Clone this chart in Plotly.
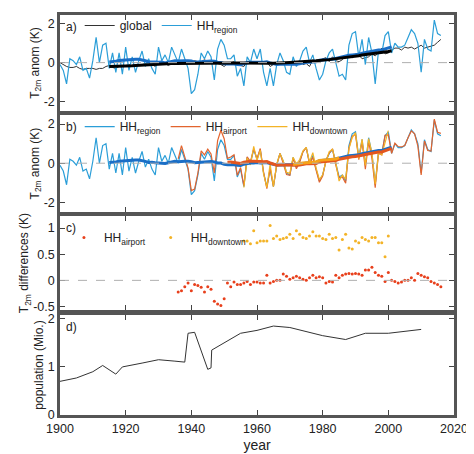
import numpy as np
import plotly.graph_objects as go
from plotly.subplots import make_subplots

years = list(range(1900, 2017))
hh_region = [-0.1,-0.4,-1.1,0.2,0.1,-0.1,0.3,-0.4,-0.3,-0.8,
             0.1,1.3,0.0,0.9,1.0,-0.3,0.5,-0.5,0.5,-0.6,
             0.8,-0.4,0.3,-0.5,0.1,0.6,-0.2,0.2,-0.3,-0.6,
             0.8,0.1,0.4,0.0,0.8,0.4,0.0,0.7,0.2,-0.3,
             -1.6,-1.4,-0.6,0.5,0.2,0.6,0.3,-0.9,0.7,1.2,
             0.9,0.2,0.2,0.4,-0.7,-0.3,-1.2,0.3,0.0,0.7,
             0.2,0.7,-0.5,-1.2,-0.3,-1.2,-0.1,0.5,0.1,-0.5,
             -0.6,0.3,-0.2,0.1,0.6,0.8,0.0,0.4,-0.3,-0.9,
             -0.6,0.1,0.5,0.7,0.0,-0.7,-0.6,-0.9,0.9,1.5,
             1.6,0.3,1.2,-0.1,1.3,0.5,-1.1,0.6,0.5,1.4,
             1.6,0.5,1.0,0.8,0.8,0.9,1.3,1.7,1.5,1.0,
             -0.5,1.2,0.7,0.6,2.2,1.5,1.4]
glob = [0.0,-0.1,-0.2,-0.25,-0.25,-0.2,-0.3,-0.35,-0.3,-0.3,
        -0.3,-0.35,-0.3,-0.3,-0.2,-0.15,-0.25,-0.3,-0.2,-0.15,
        -0.15,-0.1,-0.15,-0.15,-0.15,-0.1,-0.05,-0.1,-0.1,-0.2,
        -0.05,0.0,-0.05,-0.15,-0.05,-0.1,-0.05,0.05,0.1,0.05,
        0.05,0.1,0.05,0.05,0.15,0.05,-0.05,-0.05,-0.05,-0.1,
        -0.2,-0.05,0.0,0.05,-0.1,-0.15,-0.2,0.05,0.05,0.0,
        -0.05,0.05,0.0,0.05,-0.2,-0.1,-0.05,-0.05,-0.1,0.0,
        0.0,-0.1,0.0,0.1,-0.1,-0.05,-0.2,0.15,0.05,0.1,
        0.2,0.25,0.05,0.3,0.1,0.05,0.15,0.35,0.4,0.25,
        0.45,0.4,0.2,0.25,0.3,0.45,0.35,0.5,0.75,0.45,
        0.5,0.65,0.75,0.75,0.65,0.8,0.75,0.8,0.7,0.8,
        0.9,0.75,0.8,0.85,0.9,1.05,1.2]

airport_years = list(range(1936, 2017))
airport_diff = [-0.22,-0.2,-0.12,-0.05,-0.2,-0.08,-0.1,-0.13,-0.22,-0.12,
                -0.17,-0.4,-0.45,-0.48,-0.35,-0.05,-0.12,-0.03,-0.08,-0.08,
                -0.05,-0.02,-0.08,-0.03,-0.03,-0.05,-0.05,0.1,-0.05,-0.02,
                0.0,0.0,0.12,0.08,0.02,0.05,0.08,0.05,0.02,0.0,
                0.05,0.1,0.05,0.07,0.05,-0.05,-0.02,-0.03,0.1,0.05,
                0.1,0.12,0.13,0.12,0.13,0.12,0.1,0.2,0.2,0.25,
                0.15,0.1,0.08,-0.02,0.15,0.0,-0.02,-0.05,-0.03,0.0,
                0.0,0.05,0.0,0.13,0.1,0.07,0.05,-0.02,-0.05,-0.08,-0.12]
downtown_years = list(range(1956, 2001))
downtown_diff = [0.75,0.75,0.7,0.95,0.72,0.75,0.75,0.75,1.05,0.8,
                 0.85,0.78,0.8,0.82,0.88,0.8,0.95,0.88,0.82,0.8,
                 0.85,0.93,0.85,0.85,0.8,0.78,0.88,0.8,0.82,0.58,
                 0.78,0.88,0.62,0.6,0.75,0.72,0.82,0.78,0.75,0.82,
                 0.82,0.72,0.72,0.45,0.85]

pop_years = [1900,1905,1910,1913,1917,1919,1925,1930,1935,1938,1939,1941,1945,1946,1946.2,1950,1955,1960,1965,1970,1980,1987,1993,2000,2010]
population = [0.7,0.77,0.9,1.03,0.85,1.0,1.08,1.15,1.12,1.1,1.7,1.72,0.95,0.98,1.35,1.5,1.7,1.76,1.85,1.82,1.65,1.57,1.7,1.7,1.78]

reg = np.array(hh_region)
ry = np.array(years)
air = reg[ry >= 1936] - np.array(airport_diff)
dd = np.array(downtown_diff)
down = reg[(ry >= 1956) & (ry <= 2000)] + (dd - dd.mean())

def runmean(yrs, vals, w=31):
    v = np.convolve(vals, np.ones(w) / w, mode="valid")
    h = w // 2
    return list(yrs[h:len(yrs) - h]), list(v)

sr = runmean(ry, reg)
sg = runmean(ry, np.array(glob))
sa = runmean(np.array(airport_years), air)
sd = runmean(np.array(downtown_years), down)

C_REG = "#2b9ed8"; C_REGS = "#1a6ec6"
C_AIR = "#e2642e"; C_AIRS = "#e4561e"
C_DOWN = "#f3b327"; C_DOWNS = "#f7a318"

fig = make_subplots(rows=4, cols=1, shared_xaxes=True, vertical_spacing=0.01)

fig.add_trace(go.Scatter(x=years, y=glob, mode="lines", line=dict(color="#333333", width=1), name="global", legend="legend"), 1, 1)
fig.add_trace(go.Scatter(x=years, y=hh_region, mode="lines", line=dict(color=C_REG, width=1.2), name="HH<sub>region</sub>", legend="legend"), 1, 1)
fig.add_trace(go.Scatter(x=sr[0], y=sr[1], mode="lines", line=dict(color=C_REGS, width=3), showlegend=False), 1, 1)
fig.add_trace(go.Scatter(x=sg[0], y=sg[1], mode="lines", line=dict(color="#000000", width=3), showlegend=False), 1, 1)

fig.add_trace(go.Scatter(x=years, y=hh_region, mode="lines", line=dict(color=C_REG, width=1.2), name="HH<sub>region</sub>", legend="legend2"), 2, 1)
fig.add_trace(go.Scatter(x=airport_years, y=list(air), mode="lines", line=dict(color=C_AIR, width=1.2), name="HH<sub>airport</sub>", legend="legend2"), 2, 1)
fig.add_trace(go.Scatter(x=downtown_years, y=list(down), mode="lines", line=dict(color=C_DOWN, width=1.2), name="HH<sub>downtown</sub>", legend="legend2"), 2, 1)
fig.add_trace(go.Scatter(x=sr[0], y=sr[1], mode="lines", line=dict(color=C_REGS, width=3), showlegend=False), 2, 1)
fig.add_trace(go.Scatter(x=sa[0], y=sa[1], mode="lines", line=dict(color=C_AIRS, width=3), showlegend=False), 2, 1)
fig.add_trace(go.Scatter(x=sd[0], y=sd[1], mode="lines", line=dict(color=C_DOWNS, width=3), showlegend=False), 2, 1)

fig.add_trace(go.Scatter(x=airport_years, y=airport_diff, mode="markers", marker=dict(color="#e8401c", size=3), name="HH<sub>airport</sub>", legend="legend3"), 3, 1)
fig.add_trace(go.Scatter(x=downtown_years, y=downtown_diff, mode="markers", marker=dict(color=C_DOWN, size=3), name="HH<sub>downtown</sub>", legend="legend3"), 3, 1)

fig.add_trace(go.Scatter(x=pop_years, y=population, mode="lines", line=dict(color="#333333", width=1), showlegend=False), 4, 1)

for r in (1, 2, 3):
    fig.add_hline(y=0, line=dict(color="#b0b0b0", width=1, dash="dash"), row=r, col=1)

doms = [(0.76, 1.0), (0.507, 0.75), (0.262, 0.4975), (0.0, 0.25)]
yr = [[-2.5, 2.46], [-2.5, 2.46], [-0.57, 1.23], [0, 2.08]]
ytv = [[-2, 0, 2], [-2, 0, 2], [-0.5, 0, 0.5, 1], [0, 1, 2]]
ytt = [["-2", "0", "2"], ["-2", "0", "2"], ["-0.5", "0", "0.5", "1"], ["0", "1", "2"]]
titles = ["T<sub>2m</sub> anom (K)", "T<sub>2m</sub> anom (K)", "T<sub>2m</sub> differences (K)", "population (Mio.)"]
font = dict(family="Liberation Sans, Arial", size=12.5, color="#222")
for i in range(4):
    fig.update_yaxes(row=i + 1, col=1, domain=list(doms[i]), range=yr[i], tickvals=ytv[i], ticktext=ytt[i],
                     ticks="inside", ticklen=5, mirror="ticks", showline=True, linecolor="#555", linewidth=2.5,
                     showgrid=False, zeroline=False, title=dict(text=titles[i], standoff=2, font=dict(size=12)),
                     tickfont=font, automargin=False)
    fig.update_xaxes(row=i + 1, col=1, range=[1900, 2020], tickvals=list(range(1900, 2021, 20)),
                     ticks="inside", ticklen=5, mirror="ticks", showline=True, linecolor="#555", linewidth=2.5,
                     showgrid=False, zeroline=False, tickfont=font, showticklabels=(i == 3), automargin=False)
fig.update_xaxes(row=4, col=1, title=dict(text="year", font=dict(size=14), standoff=6))

labels = ["a)", "b)", "c)", "d)"]
for i in range(4):
    fig.add_annotation(text=labels[i], xref="paper", yref="paper", x=0.01, y=doms[i][1] - 0.008,
                       xanchor="left", yanchor="top", showarrow=False, font=dict(size=12, color="#222"))

lg = dict(orientation="h", bgcolor="rgba(0,0,0,0)", font=dict(size=12, color="#222"), xanchor="left", yanchor="top",
          itemwidth=30, tracegroupgap=0)
fig.update_layout(
    width=474, height=454, margin=dict(l=52, r=28, t=3, b=47),
    plot_bgcolor="white", paper_bgcolor="white", font=font,
    legend=dict(lg, x=0.05, y=1.01),
    legend2=dict(lg, x=0.05, y=0.757),
    legend3=dict(lg, x=0.01, y=0.48, itemsizing="trace"),
)
fig.write_html("out.html")
